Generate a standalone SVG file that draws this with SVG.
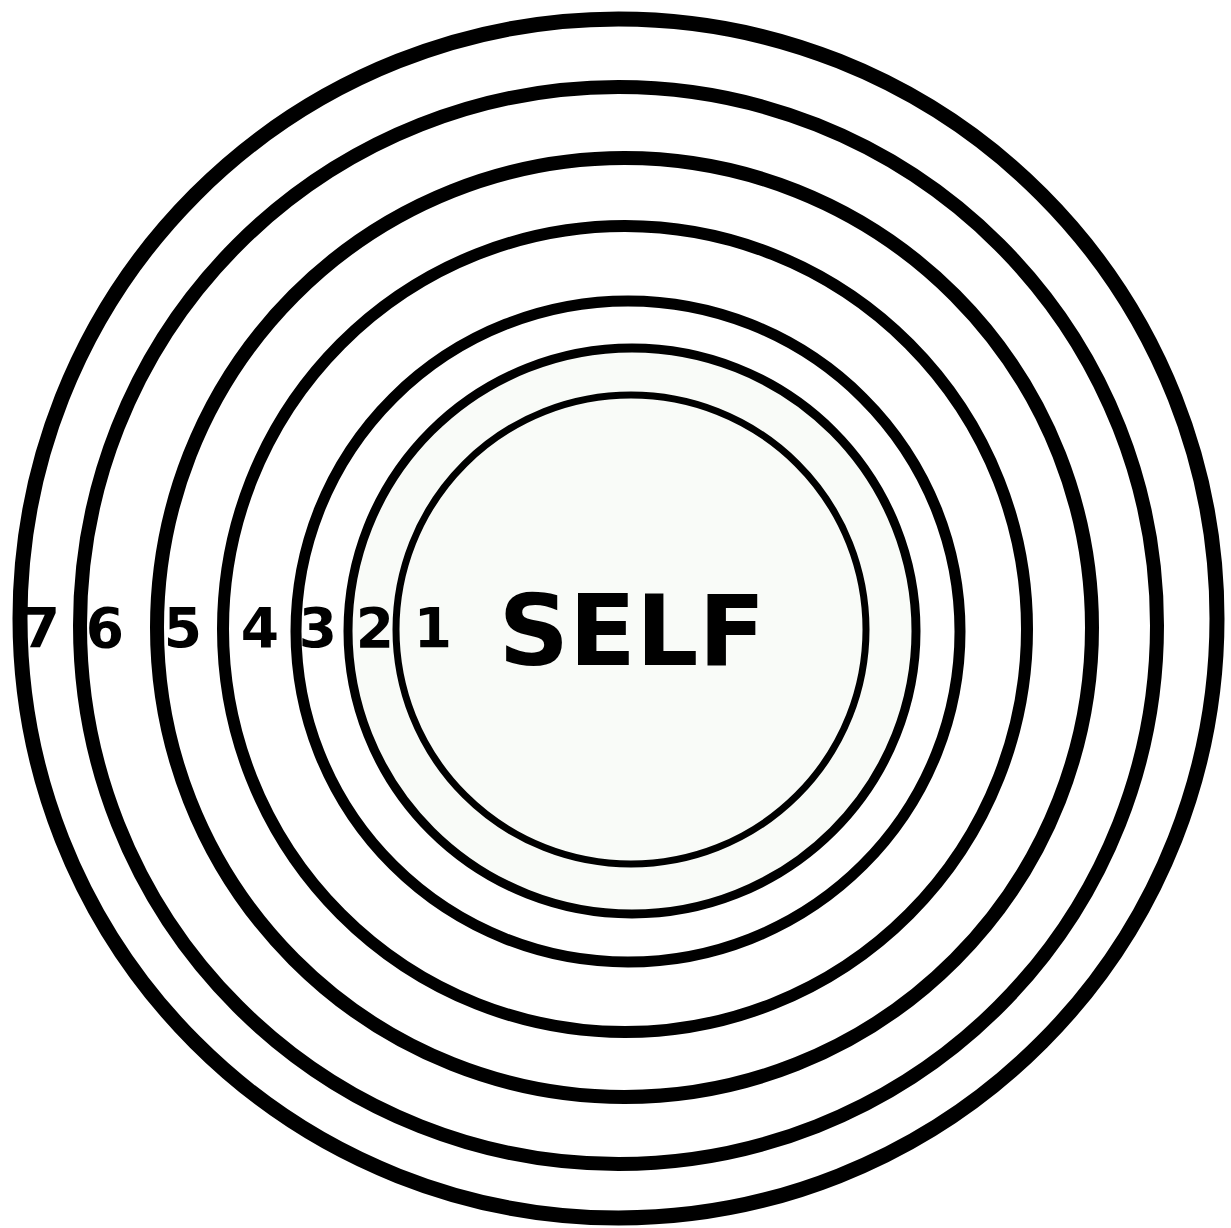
<svg xmlns="http://www.w3.org/2000/svg" width="1231" height="1228" viewBox="0 0 1231 1228">
<style>
.ring{fill:none;stroke:#000}
.lbl{font-family:"DejaVu Sans",sans-serif;font-weight:bold;fill:#000;text-anchor:middle}
</style>
<rect width="1231" height="1228" fill="#fff"/>
<ellipse cx="632" cy="631" rx="284" ry="283" fill="#f9fbf8"/>
<g id="labels">
<text class="lbl" x="41" y="647" font-size="55">7</text>
<text class="lbl" x="105" y="647" font-size="55">6</text>
<text class="lbl" x="183" y="647" font-size="55">5</text>
<text class="lbl" x="260" y="647" font-size="55">4</text>
<text class="lbl" x="318" y="647" font-size="55">3</text>
<text class="lbl" x="375" y="647" font-size="55">2</text>
<text class="lbl" x="433" y="647" font-size="55">1</text>
</g>
<g id="self"><text class="lbl" x="632" y="665" font-size="98">SELF</text></g>
<g id="rings">
<g id="ring7"><ellipse class="ring" cx="618.5" cy="618.5" rx="598.5" ry="599.5" stroke-width="15"/></g>
<g id="ring6"><ellipse class="ring" cx="618.5" cy="625.5" rx="538.5" ry="538.5" stroke-width="14"/></g>
<g id="ring5"><ellipse class="ring" cx="624.5" cy="627.5" rx="467.5" ry="469.5" stroke-width="14"/></g>
<g id="ring4"><ellipse class="ring" cx="625" cy="629" rx="402" ry="403" stroke-width="12"/></g>
<g id="ring3"><ellipse class="ring" cx="628" cy="631.5" rx="332" ry="330.5" stroke-width="11"/></g>
<g id="ring2"><ellipse class="ring" cx="632" cy="631" rx="284" ry="283" stroke-width="9"/></g>
<g id="ring1"><ellipse class="ring" cx="631" cy="629.5" rx="235" ry="234.5" stroke-width="7"/></g>
</g>
</svg>
